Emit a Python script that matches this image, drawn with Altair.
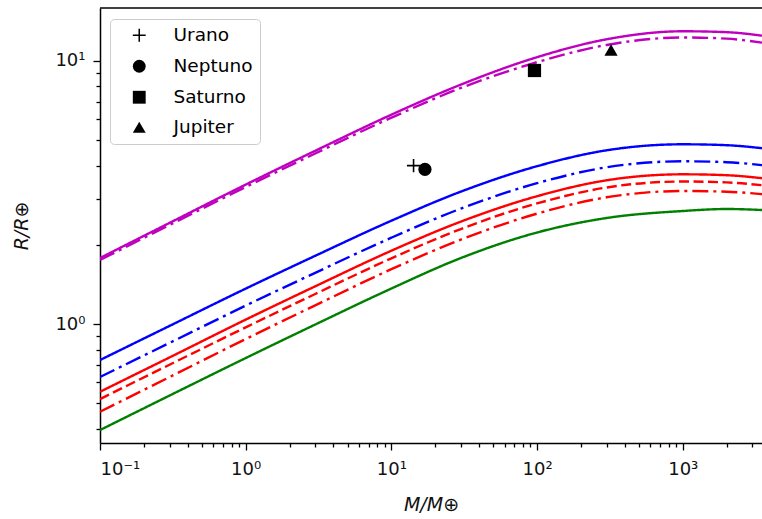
import altair as alt
import pandas as pd

# Planet mass (Earth masses) at which each curve is sampled
mass = [0.1, 0.3, 1, 3, 10, 30, 100, 300, 1000, 2000, 3500]

# Radius (Earth radii) of each mass-radius curve
r_magenta_solid = [1.7822, 2.4233, 3.3887, 4.5558, 6.2494, 8.1334, 10.338, 12.090, 12.970, 12.868, 12.480]
r_magenta_dashdot = [1.7513, 2.3792, 3.3183, 4.4494, 6.0871, 7.8945, 9.8956, 11.504, 12.284, 12.156, 11.737]
r_blue_solid = [0.7297, 0.9835, 1.3633, 1.8169, 2.4704, 3.1873, 3.9811, 4.5757, 4.8227, 4.7847, 4.6605]
r_blue_dashdot = [0.6289, 0.8476, 1.1749, 1.5658, 2.1290, 2.7468, 3.4309, 3.9433, 4.1562, 4.1235, 4.0164]
r_red_solid = [0.5527, 0.7464, 1.0393, 1.3910, 1.8999, 2.4511, 3.0614, 3.5187, 3.7085, 3.6795, 3.5840]
r_red_dashed = [0.5186, 0.7003, 0.9715, 1.3004, 1.7775, 2.2973, 2.8745, 3.3039, 3.4820, 3.4547, 3.3709]
r_red_dashdot = [0.4640, 0.6286, 0.8769, 1.1778, 1.6159, 2.0937, 2.6290, 3.0322, 3.2041, 3.1845, 3.1157]
r_green_solid = [0.3953, 0.5346, 0.7425, 0.9956, 1.3645, 1.7822, 2.2281, 2.5295, 2.6895, 2.7370, 2.7132]

# Solar-system planets
planets = ["Urano", "Neptuno", "Saturno", "Jupiter"]
planet_mass = [14.2, 17.0, 96.0, 322.0]
planet_radius = [4.0, 3.87, 9.2, 11.0]

# Axis ticks
x_ticks = [m * 10 ** e for e in range(-1, 4) for m in range(1, 10) if m * 10 ** e <= 3500]
y_ticks = [0.4, 0.5, 0.6, 0.7, 0.8, 0.9, 1, 2, 3, 4, 5, 6, 7, 8, 9, 10]

SOLID = [1, 0]
DASHED = [10, 4.5]
DASHDOT = [16, 5, 3, 5]

curve_styles = [
    ("m_solid", r_magenta_solid, "#bf00bf", SOLID),
    ("m_dashdot", r_magenta_dashdot, "#bf00bf", DASHDOT),
    ("b_solid", r_blue_solid, "#0000ff", SOLID),
    ("b_dashdot", r_blue_dashdot, "#0000ff", DASHDOT),
    ("r_solid", r_red_solid, "#ff0000", SOLID),
    ("r_dashed", r_red_dashed, "#ff0000", DASHED),
    ("r_dashdot", r_red_dashdot, "#ff0000", DASHDOT),
    ("g_solid", r_green_solid, "#008000", SOLID),
]

rows = []
for name, radii, _, _ in curve_styles:
    for m, r in zip(mass, radii):
        rows.append({"mass": m, "radius": r, "curve": name})
curves_df = pd.DataFrame(rows)

planets_df = pd.DataFrame({"planet": planets, "mass": planet_mass, "radius": planet_radius})

W, H = 662, 435
FONT = "DejaVu Sans"

x_label = ("datum.value == 0.1 ? '10⁻¹' : datum.value == 1 ? '10⁰' : "
           "datum.value == 10 ? '10¹' : datum.value == 100 ? '10²' : "
           "datum.value == 1000 ? '10³' : ''")
y_label = "datum.value == 1 ? '10⁰' : datum.value == 10 ? '10¹' : ''"

major_x = {"condition": {"test": "indexof([0.1, 1, 10, 100, 1000], datum.value) >= 0", "value": 7}, "value": 4}
major_y = {"condition": {"test": "indexof([1, 10], datum.value) >= 0", "value": 7}, "value": 4}

x_enc = alt.X(
    "mass:Q",
    scale=alt.Scale(type="log", domain=[0.1, 3500], nice=False),
    axis=alt.Axis(values=x_ticks, labelExpr=x_label, tickSize=major_x, labelPadding=10,
                  title="M/M⊕", titleFontStyle="italic", titlePadding=17),
)
y_enc = alt.Y(
    "radius:Q",
    scale=alt.Scale(type="log", domain=[0.353, 15.9], nice=False),
    axis=alt.Axis(values=y_ticks, labelExpr=y_label, tickSize=major_y, labelPadding=8,
                  title="R/R⊕", titleFontStyle="italic", titlePadding=23),
)

lines = alt.Chart(curves_df).mark_line(strokeWidth=2.4, clip=True, interpolate="monotone").encode(
    x=x_enc,
    y=y_enc,
    color=alt.Color("curve:N", scale=alt.Scale(domain=[c[0] for c in curve_styles],
                                               range=[c[2] for c in curve_styles]), legend=None),
    strokeDash=alt.StrokeDash("curve:N", scale=alt.Scale(domain=[c[0] for c in curve_styles],
                                                         range=[c[3] for c in curve_styles]), legend=None),
    detail="curve:N",
)

# thin filled plus sign
plus = "M-1,-0.12H-0.12V-1H0.12V-0.12H1V0.12H0.12V1H-0.12V0.12H-1Z"
points = alt.Chart(planets_df).mark_point(
    filled=True, size=175, color="black", opacity=1
).encode(
    x="mass:Q",
    y="radius:Q",
    shape=alt.Shape(
        "planet:N",
        scale=alt.Scale(domain=planets, range=[plus, "circle", "square", "triangle-up"]),
        legend=alt.Legend(
            title=None, orient="none", legendX=10, legendY=11, padding=7,
            symbolOffset=13, labelOffset=25, rowPadding=11,
            labelFont=FONT, labelFontSize=18.5, labelColor="black",
            symbolSize=165, symbolFillColor="black", symbolOpacity=1,
            fillColor="white", strokeColor="#cccccc", cornerRadius=4,
        ),
    ),
)

top_spine = alt.Chart(pd.DataFrame({"v": [0]})).mark_rule(color="black", strokeWidth=1.5).encode(
    x=alt.value(0), x2=alt.value(W), y=alt.value(0)
)

chart = (
    alt.layer(lines, points, top_spine)
    .properties(width=W, height=H,
                padding={"left": 100, "top": 8, "right": 0, "bottom": 76},
                autosize=alt.AutoSizeParams(type="none"))
    .configure_view(stroke=None)
    .configure_axis(
        grid=False, domainColor="black", domainWidth=1.5, tickColor="black", tickWidth=1.3,
        labelFont=FONT, labelFontSize=18, labelColor="#111111",
        titleFont=FONT, titleFontSize=19, titleFontWeight="normal", titleColor="#111111",
    )
)

chart.save("out.html", embed_options={"renderer": "svg", "actions": False})
